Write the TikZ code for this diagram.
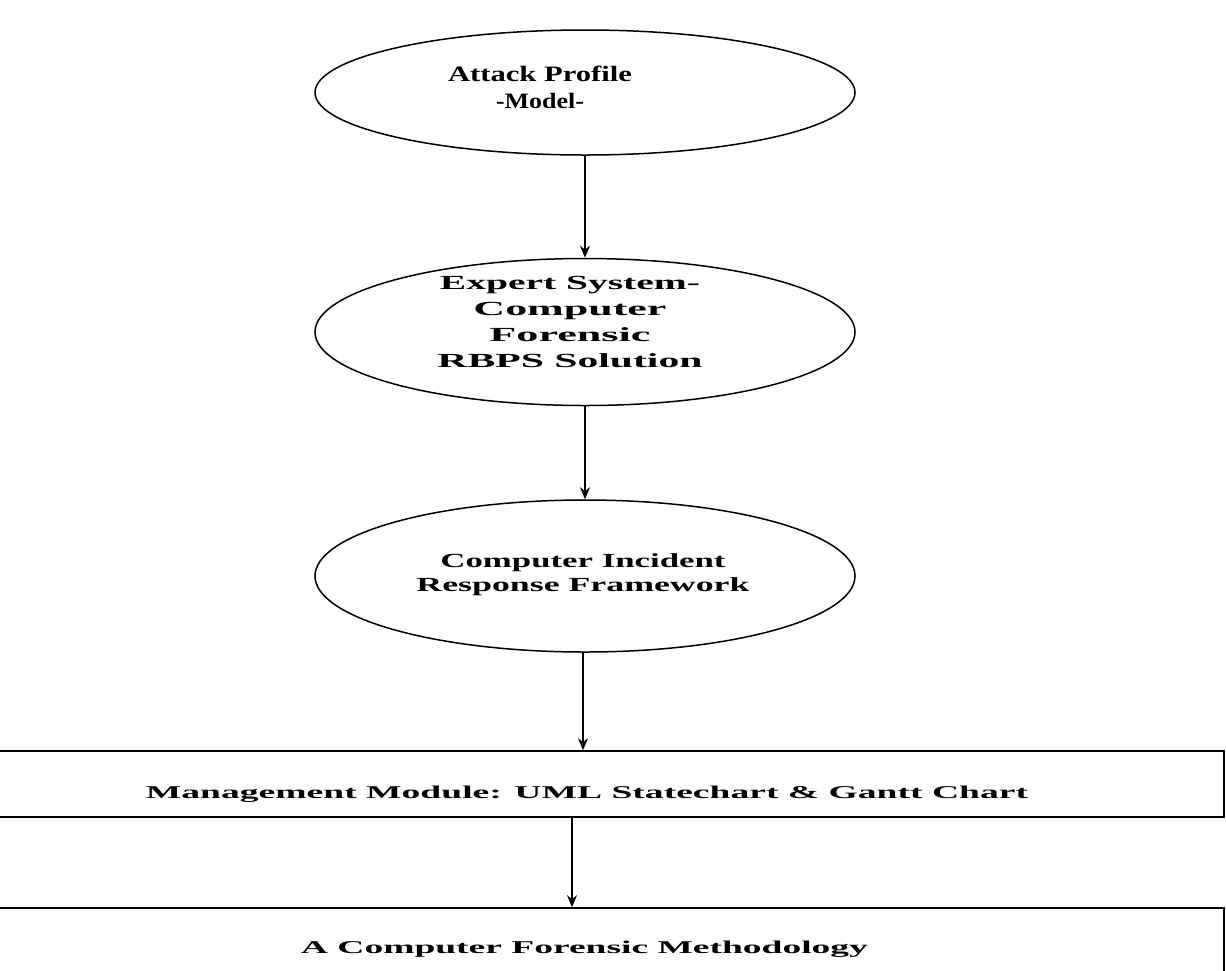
\documentclass[tikz,border=0pt]{standalone}
\usepackage{fontspec}
\setmainfont{Liberation Serif}
\usetikzlibrary{shapes.geometric,arrows.meta}
% stretch one line of text to a given width, keeping its height
\newcommand\wline[2]{\resizebox{#1pt}{\height}{#2}}
\begin{document}
\begin{tikzpicture}[x=1pt,y=-1pt,
  bubble/.style={draw, ellipse, line width=1.5pt, minimum width=540pt, inner sep=0pt},
  panel/.style={draw, rectangle, line width=1.6pt, inner sep=0pt, minimum width=1236pt},
  lbl/.style={font=\fontsize{20}{26}\selectfont\bfseries, align=center, inner sep=0pt},
  boxlbl/.style={font=\fontsize{18}{22}\selectfont\bfseries, inner sep=0pt},
  arr/.style={-{Stealth[length=12pt,width=10pt]}, line width=1.6pt}]
\useasboundingbox (0,0) rectangle (1226,970);
\clip (0,0) rectangle (1226,970);
\fill[white] (0,0) rectangle (1226,970);

% ellipses
\node[bubble, minimum height=125pt] (a) at (585,92.5) {};
\node[bubble, minimum height=147pt] (b) at (585,332) {};
\node[bubble, minimum height=152pt] (c) at (585,576) {};

\node[lbl, font=\fontsize{22}{27}\selectfont\bfseries] (at) at (540,87) {\wline{184}{Attack Profile}\\\wline{88}{-Model-}};
\node[lbl] (bt) at (570,322) {\wline{260}{Expert System-}\\\wline{193}{Computer}\\\wline{161}{Forensic}\\\wline{265}{RBPS Solution}};
\node[lbl, font=\fontsize{20}{24}\selectfont\bfseries] (ct) at (583,574.5) {\wline{285}{Computer Incident}\\\wline{333}{Response Framework}};

% wide boxes
\node[panel, minimum height=66pt] (r1) at (606,784) {};
\node[boxlbl] (r1t) at (587,794) {\wline{882}{Management Module: UML Statechart \& Gantt Chart}};
\node[panel, minimum height=84pt] (r2) at (606,950) {};
\node[boxlbl] (r2t) at (584.5,949) {\wline{567}{A Computer Forensic Methodology}};

% connectors
\coordinate (x3) at (583,0);
\coordinate (x4) at (572,0);
\draw[arr] (a.south) -- (b.north);
\draw[arr] (b.south) -- (c.north);
\draw[arr] (c.south -| x3) -- (r1.north -| x3);
\draw[arr] (r1.south -| x4) -- (r2.north -| x4);
\end{tikzpicture}
\end{document}
